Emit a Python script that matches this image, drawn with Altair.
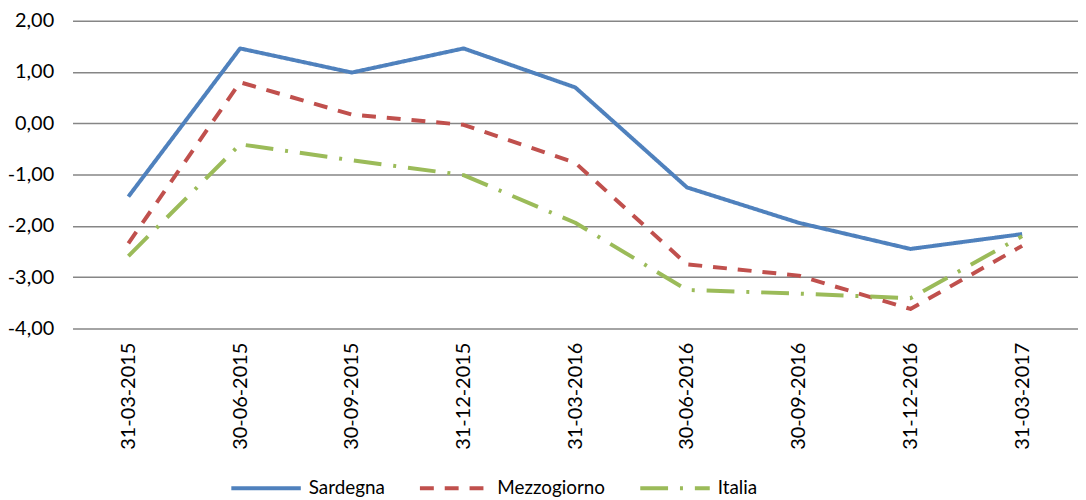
import altair as alt
import pandas as pd

dates = ["31-03-2015", "30-06-2015", "30-09-2015", "31-12-2015", "31-03-2016",
         "30-06-2016", "30-09-2016", "31-12-2016", "31-03-2017"]
sardegna = [-1.43, 1.46, 0.99, 1.46, 0.70, -1.25, -1.94, -2.45, -2.16]
mezzogiorno = [-2.34, 0.80, 0.17, -0.03, -0.77, -2.75, -2.97, -3.62, -2.39]
italia = [-2.59, -0.41, -0.72, -1.01, -1.94, -3.25, -3.32, -3.41, -2.20]
series_names = ["Sardegna", "Mezzogiorno", "Italia"]
y_ticks = [-4, -3, -2, -1, 0, 1, 2]

rows = []
for name, vals in zip(series_names, [sardegna, mezzogiorno, italia]):
    for i, (d, v) in enumerate(zip(dates, vals)):
        rows.append({"data": d, "serie": name, "valore": v, "ordine": i})
df = pd.DataFrame(rows)

FONT = "Lato"
FS = 20

legend_opts = dict(title=None, orient="none", direction="horizontal",
                   legendX=158, legendY=434, padding=0,
                   symbolType="stroke", symbolSize=4900,
                   symbolStrokeWidth=4, labelOffset=6,
                   columnPadding=27, labelFontSize=19,
                   labelFont=FONT, labelColor="#000000")

chart = alt.Chart(df).mark_line(strokeWidth=4, strokeCap="butt", strokeJoin="round").encode(
    x=alt.X("data:N", sort=dates, title=None,
            scale=alt.Scale(type="point", padding=0.5),
            axis=alt.Axis(labelAngle=-90, ticks=False, domain=False, grid=False,
                          labelPadding=14, labelFontSize=FS, labelFont=FONT,
                          labelColor="#000000")),
    y=alt.Y("valore:Q", title=None,
            scale=alt.Scale(domain=[-4, 2], nice=False, zero=False),
            axis=alt.Axis(values=y_ticks, ticks=False, domain=False, grid=True,
                          gridColor="#868686", gridWidth=1.5,
                          labelPadding=19, labelFontSize=FS, labelFont=FONT,
                          labelColor="#000000",
                          labelExpr="replace(replace(format(datum.value, '.2f'), '.', ','), '\u2212', '-')")),
    color=alt.Color("serie:N", sort=series_names,
                    scale=alt.Scale(domain=series_names,
                                    range=["#4F81BD", "#C0504D", "#9BBB59"]),
                    legend=alt.Legend(**legend_opts)),
    strokeDash=alt.StrokeDash("serie:N", sort=series_names,
                              scale=alt.Scale(domain=series_names,
                                              range=[[1, 0], [14, 11], [28, 12, 3, 12]]),
                              legend=alt.Legend(**legend_opts)),
    order="ordine:Q",
).properties(
    width=1013,
    height=310,
    autosize=alt.AutoSizeParams(type="none"),
    padding={"left": 65, "top": 11, "right": 0, "bottom": 170},
).configure_view(stroke=None)

chart.save("out.html", embed_options={"renderer": "svg", "actions": False})
